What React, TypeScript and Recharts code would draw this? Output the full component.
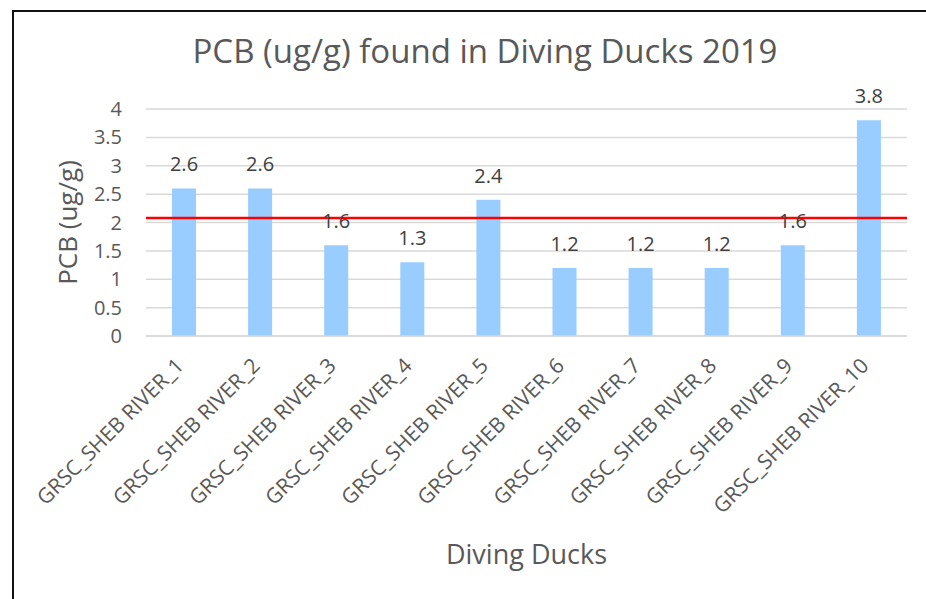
import React from 'react';
import { BarChart, Bar, XAxis, YAxis, CartesianGrid, ReferenceLine, LabelList, Label } from 'recharts';

const categories = [
  'GRSC_SHEB RIVER_1',
  'GRSC_SHEB RIVER_2',
  'GRSC_SHEB RIVER_3',
  'GRSC_SHEB RIVER_4',
  'GRSC_SHEB RIVER_5',
  'GRSC_SHEB RIVER_6',
  'GRSC_SHEB RIVER_7',
  'GRSC_SHEB RIVER_8',
  'GRSC_SHEB RIVER_9',
  'GRSC_SHEB RIVER_10',
];
const pcbValues = [2.6, 2.6, 1.6, 1.3, 2.4, 1.2, 1.2, 1.2, 1.6, 3.8];
const yTicks = [0, 0.5, 1, 1.5, 2, 2.5, 3, 3.5, 4];
const thresholdValue = 2.08;

const data = categories.map((name, i) => ({ name, pcb: pcbValues[i] }));

const FONT = '"Open Sans", sans-serif';

const XTick = (props: any) => {
  const { x, y, payload } = props;
  return (
    <g transform={`translate(${x + 1},${y + 23})`}>
      <text
        x={0}
        y={0}
        transform="rotate(-45)"
        textAnchor="end"
        fontFamily={FONT}
        fontSize={21}
        fill="#595959"
      >
        {payload.value}
      </text>
    </g>
  );
};

export default function App() {
  return (
    <div style={{ position: 'absolute', left: 0, top: 0, width: 926, height: 599, background: '#fff', overflow: 'hidden' }}>
      <div
        style={{
          position: 'absolute',
          left: 12,
          top: 10,
          width: 926,
          height: 599,
          borderLeft: '2px solid #111',
          borderTop: '2px solid #111',
        }}
      />
      <div style={{ position: 'absolute', left: 0, top: 0 }}>
        <BarChart
          width={926}
          height={599}
          data={data}
          margin={{ top: 109, right: 19, bottom: 0, left: 0 }}
          barSize={24}
        >
          <text x={485} y={63} textAnchor="middle" fontFamily={FONT} fontSize={33} fill="#595959">
            PCB (ug/g) found in Diving Ducks 2019
          </text>
          <CartesianGrid vertical={false} stroke="#D9D9D9" strokeWidth={1.5} />
          <XAxis
            dataKey="name"
            interval={0}
            height={263}
            tick={<XTick />}
            tickLine={false}
            axisLine={{ stroke: '#D9D9D9', strokeWidth: 1.5 }}
          >
            <Label
              content={(p: any) => {
                const vb = p.viewBox;
                return (
                  <text x={vb.x + vb.width / 2} y={564} textAnchor="middle" fontFamily={FONT} fontSize={27} fill="#595959">
                    Diving Ducks
                  </text>
                );
              }}
            />
          </XAxis>
          <YAxis
            width={146}
            domain={[0, 4]}
            ticks={yTicks}
            tickSize={0}
            tickMargin={24}
            tickLine={false}
            axisLine={false}
            tick={{ fontFamily: FONT, fontSize: 20, fill: '#595959' }}
          >
            <Label
              content={(p: any) => {
                const vb = p.viewBox;
                const cx = 77;
                const cy = vb.y + vb.height / 2;
                return (
                  <text
                    x={cx}
                    y={cy}
                    transform={`rotate(-90, ${cx}, ${cy})`}
                    textAnchor="middle"
                    fontFamily={FONT}
                    fontSize={26}
                    fill="#595959"
                  >
                    PCB (ug/g)
                  </text>
                );
              }}
            />
          </YAxis>
          <Bar dataKey="pcb" fill="#99CCFF" isAnimationActive={false}>
            <LabelList
              dataKey="pcb"
              position="top"
              offset={17}
              fontFamily={FONT}
              fontSize={20}
              fill="#404040"
            />
          </Bar>
          <ReferenceLine y={thresholdValue} stroke="#FF0000" strokeWidth={2.5} ifOverflow="extendDomain" />
        </BarChart>
      </div>
    </div>
  );
}
